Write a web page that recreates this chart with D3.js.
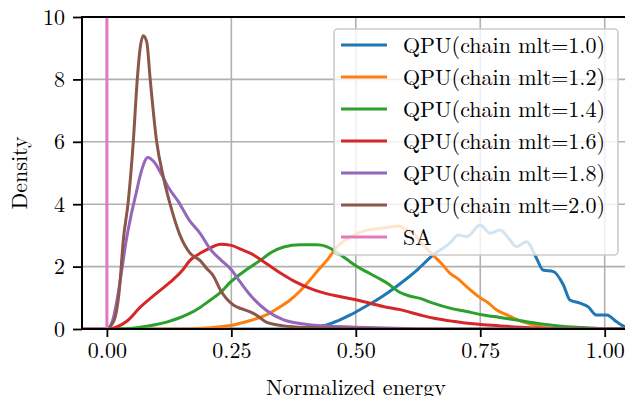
<!DOCTYPE html>
<html>
<head>
<meta charset="utf-8">
<script src="https://cdn.jsdelivr.net/npm/d3@7"></script>
<style>
  html, body { margin: 0; padding: 0; background: #fff; }
  svg { display: block; }
  text { font-family: "Latin Modern Roman", "Times New Roman", serif; fill: #000; }
</style>
</head>
<body>
<svg id="chart" width="625" height="396"></svg>
<script>
// Kernel density estimates of the normalized energy for each sampler.
const seriesNames = [
  "QPU(chain mlt=1.0)", "QPU(chain mlt=1.2)", "QPU(chain mlt=1.4)",
  "QPU(chain mlt=1.6)", "QPU(chain mlt=1.8)", "QPU(chain mlt=2.0)", "SA"
];
const seriesColors = ["#1f77b4", "#ff7f0e", "#2ca02c", "#d62728", "#9467bd", "#8c564b", "#e377c2"];

const mlt10X = [0, 0.35, 0.39, 0.415, 0.442, 0.465, 0.489, 0.515, 0.542, 0.565, 0.589, 0.623, 0.655, 0.689, 0.706, 0.723, 0.75, 0.77, 0.79, 0.805, 0.823, 0.843, 0.863, 0.876, 0.897, 0.917, 0.93, 0.95, 0.967, 0.983, 1.004, 1.024, 1.041, 1.05];
const mlt10Y = [0, 0, 0.02, 0.06, 0.13, 0.27, 0.45, 0.68, 0.93, 1.17, 1.45, 1.89, 2.37, 2.75, 3.01, 2.96, 3.33, 3.07, 3.17, 2.95, 2.64, 2.8, 2.27, 1.89, 1.84, 1.41, 0.93, 0.83, 0.71, 0.45, 0.45, 0.23, 0.07, 0.03];

const mlt12X = [0, 0.15, 0.2, 0.254, 0.29, 0.32, 0.345, 0.368, 0.388, 0.408, 0.425, 0.442, 0.462, 0.489, 0.522, 0.545, 0.569, 0.585, 0.6, 0.616, 0.635, 0.655, 0.672, 0.689, 0.706, 0.723, 0.75, 0.765, 0.783, 0.8, 0.817, 0.837, 0.857, 0.88, 0.92, 1.05];
const mlt12Y = [0, 0, 0.03, 0.13, 0.28, 0.45, 0.68, 0.93, 1.22, 1.57, 1.9, 2.2, 2.63, 2.95, 3.17, 3.22, 3.27, 3.3, 3.2, 3.05, 2.7, 2.37, 2.1, 1.79, 1.6, 1.35, 1.0, 0.85, 0.61, 0.48, 0.35, 0.22, 0.13, 0.05, 0.01, 0];

const mlt14X = [0, 0.03, 0.067, 0.12, 0.16, 0.188, 0.208, 0.23, 0.248, 0.28, 0.308, 0.33, 0.355, 0.388, 0.422, 0.44, 0.455, 0.472, 0.489, 0.505, 0.522, 0.543, 0.563, 0.589, 0.61, 0.629, 0.655, 0.689, 0.72, 0.756, 0.79, 0.823, 0.857, 0.89, 0.92, 0.956, 1.0, 1.05];
const mlt14Y = [0, 0.005, 0.06, 0.22, 0.45, 0.7, 0.93, 1.2, 1.5, 1.9, 2.2, 2.45, 2.63, 2.7, 2.7, 2.65, 2.53, 2.35, 2.15, 1.98, 1.83, 1.65, 1.47, 1.17, 1.05, 0.98, 0.83, 0.67, 0.57, 0.45, 0.37, 0.29, 0.2, 0.13, 0.08, 0.05, 0.01, 0];

const mlt16X = [0, 0.003, 0.02, 0.04, 0.067, 0.1, 0.127, 0.15, 0.167, 0.19, 0.208, 0.228, 0.25, 0.27, 0.288, 0.32, 0.355, 0.38, 0.408, 0.43, 0.455, 0.502, 0.555, 0.589, 0.629, 0.655, 0.69, 0.72, 0.79, 0.85, 0.9, 1.05];
const mlt16Y = [0, 0, 0.07, 0.25, 0.7, 1.15, 1.5, 1.85, 2.2, 2.45, 2.6, 2.72, 2.68, 2.55, 2.43, 2.1, 1.73, 1.5, 1.3, 1.18, 1.08, 0.93, 0.72, 0.62, 0.45, 0.35, 0.26, 0.19, 0.1, 0.04, 0.01, 0];

const mlt18X = [-0.05, 0, 0.005, 0.012, 0.02, 0.03, 0.039, 0.048, 0.058, 0.07, 0.082, 0.095, 0.11, 0.125, 0.143, 0.165, 0.188, 0.208, 0.23, 0.25, 0.268, 0.29, 0.32, 0.355, 0.41, 0.45, 0.5, 0.6, 0.7, 1.05];
const mlt18Y = [0, 0, 0.05, 0.3, 0.9, 1.9, 2.85, 3.6, 4.3, 5.1, 5.5, 5.35, 4.95, 4.5, 4.1, 3.5, 3.05, 2.55, 2.2, 1.9, 1.5, 1.05, 0.6, 0.29, 0.13, 0.09, 0.06, 0.02, 0, 0];

const mlt20X = [-0.05, 0, 0.003, 0.01, 0.017, 0.025, 0.033, 0.043, 0.053, 0.061, 0.066, 0.073, 0.08, 0.087, 0.1, 0.113, 0.127, 0.147, 0.167, 0.187, 0.2, 0.214, 0.228, 0.254, 0.27, 0.288, 0.3, 0.32, 0.355, 0.4, 0.5, 0.6, 1.05];
const mlt20Y = [0, 0, 0.02, 0.15, 0.4, 1.25, 2.85, 4.1, 6.0, 8.0, 8.9, 9.4, 9.2, 8.0, 6.0, 4.9, 4.0, 3.0, 2.43, 2.2, 1.95, 1.7, 1.25, 0.77, 0.65, 0.55, 0.45, 0.22, 0.1, 0.05, 0.02, 0, 0];

// SA collapses onto a single spike at zero energy
const saX = [0, 0];
const saY = [0, 40];

const seriesX = [mlt10X, mlt12X, mlt14X, mlt16X, mlt18X, mlt20X, saX];
const seriesY = [mlt10Y, mlt12Y, mlt14Y, mlt16Y, mlt18Y, mlt20Y, saY];

const xTicks = [0, 0.25, 0.5, 0.75, 1.0];
const yTicks = [0, 2, 4, 6, 8, 10];

const FONT = "'Latin Modern Roman', 'Times New Roman', serif";
const svg = d3.select("#chart");
const plotLeft = 82, plotTop = 17, plotBottom = 329;
const x = d3.scaleLinear().domain([-0.05, 1.05]).range([plotLeft, 629.6]);
const y = d3.scaleLinear().domain([0, 10]).range([plotBottom, plotTop]);
const plotRight = x.range()[1];

svg.append("defs").append("clipPath").attr("id", "plot")
  .append("rect").attr("x", plotLeft).attr("y", plotTop)
  .attr("width", plotRight - plotLeft).attr("height", plotBottom - plotTop);

// grid
const grid = svg.append("g").attr("stroke", "#b0b0b0").attr("stroke-width", 1.6);
grid.selectAll("line.vx").data(xTicks).join("line").attr("class", "vx")
  .attr("x1", d => x(d)).attr("x2", d => x(d)).attr("y1", plotTop).attr("y2", plotBottom);
grid.selectAll("line.hy").data(yTicks).join("line").attr("class", "hy")
  .attr("y1", d => y(d)).attr("y2", d => y(d)).attr("x1", plotLeft).attr("x2", plotRight);

// curves
const smooth = d3.line().x(d => x(d[0])).y(d => y(d[1])).curve(d3.curveMonotoneX);
const straight = d3.line().x(d => x(d[0])).y(d => y(d[1]));
const plot = svg.append("g").attr("clip-path", "url(#plot)");
seriesNames.forEach((name, i) => {
  const pts = seriesX[i].map((v, k) => [v, seriesY[i][k]]);
  plot.append("path").datum(pts)
    .attr("fill", "none").attr("stroke", seriesColors[i]).attr("stroke-width", 3)
    .attr("stroke-linejoin", "round")
    .attr("d", i === 6 ? straight(pts) : smooth(pts));
});

// axes
const xAxis = d3.axisBottom(x).tickValues(xTicks).tickFormat(d3.format(".2f")).tickSize(8).tickPadding(5);
const yAxis = d3.axisLeft(y).tickValues(yTicks).tickFormat(d3.format("d")).tickSize(9).tickPadding(8);
const gx = svg.append("g").attr("transform", `translate(0,${plotBottom})`).call(xAxis);
const gy = svg.append("g").attr("transform", `translate(${plotLeft},0)`).call(yAxis);
[gx, gy].forEach(g => {
  g.attr("font-family", null).attr("font-size", null);
  g.select(".domain").remove();
  g.selectAll(".tick line").attr("stroke", "#000").attr("stroke-width", 1.8);
  g.selectAll(".tick text").style("font-family", FONT).style("font-size", "22px").attr("fill", "#000");
});
gy.selectAll(".tick text").attr("dy", "0.32em");

// spines
const spines = svg.append("g").attr("stroke", "#000").attr("stroke-width", 2).attr("stroke-linecap", "square");
spines.append("line").attr("x1", plotLeft).attr("x2", plotLeft).attr("y1", plotTop).attr("y2", plotBottom);
spines.append("line").attr("x1", plotLeft).attr("x2", plotRight).attr("y1", plotBottom).attr("y2", plotBottom);
spines.append("line").attr("x1", plotLeft).attr("x2", plotRight).attr("y1", plotTop).attr("y2", plotTop);

// axis titles
svg.append("text").attr("x", 356).attr("y", 395).attr("text-anchor", "middle")
  .style("font-size", "22px").text("Normalized energy");
svg.append("text").attr("transform", "translate(27,173) rotate(-90)").attr("text-anchor", "middle")
  .style("font-size", "22px").text("Density");

// legend
const lg = svg.append("g");
lg.append("rect").attr("x", 334).attr("y", 29).attr("width", 284).attr("height", 226).attr("rx", 4)
  .attr("fill", "#fff").attr("fill-opacity", 0.8).attr("stroke", "#cccccc").attr("stroke-width", 1.6);
seriesNames.forEach((name, i) => {
  const ry = 45 + i * 32;
  lg.append("line").attr("x1", 341).attr("x2", 387).attr("y1", ry).attr("y2", ry)
    .attr("stroke", seriesColors[i]).attr("stroke-width", 3);
  lg.append("text").attr("x", 403).attr("y", ry + 7.5).style("font-size", "22px").text(name);
});
</script>
</body>
</html>
